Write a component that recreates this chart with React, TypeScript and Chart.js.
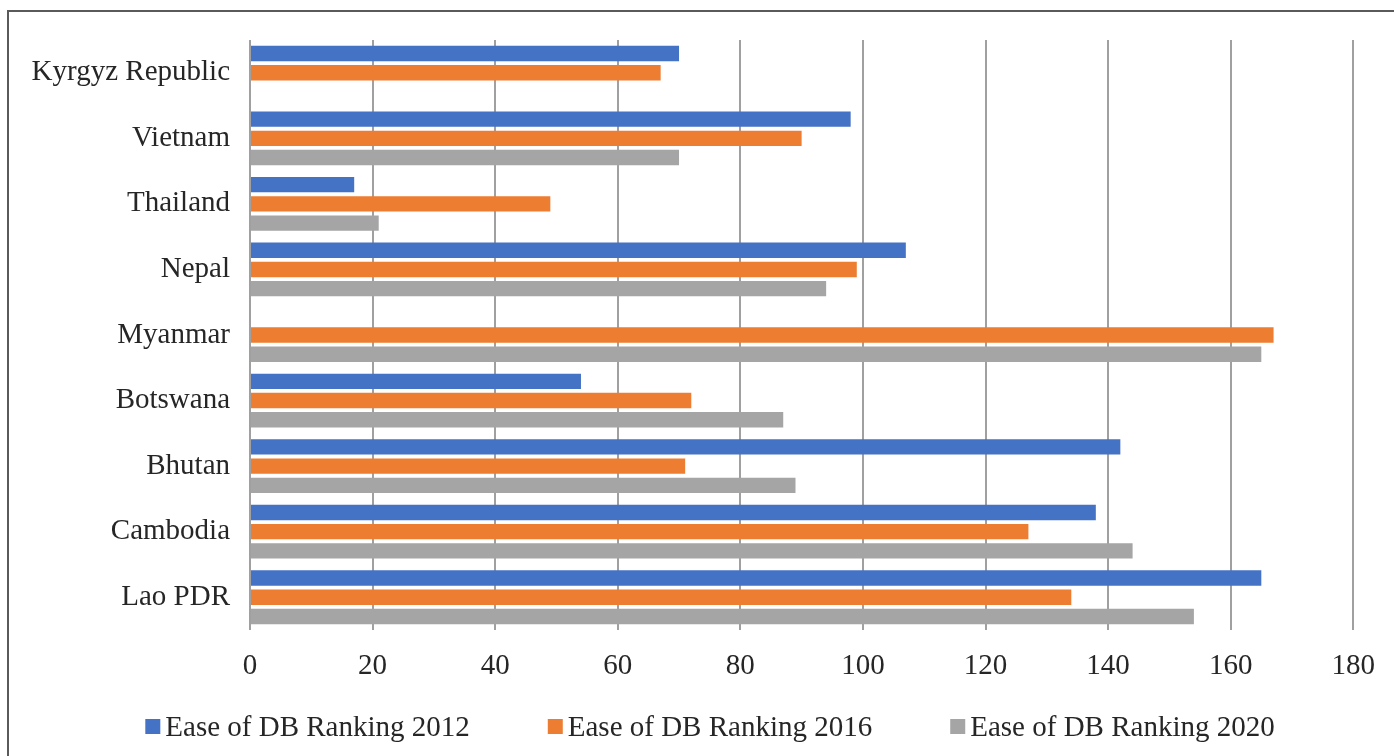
import React, { useEffect, useRef } from "react";
import { Chart, registerables } from "chart.js";

Chart.register(...registerables);

const categories = [
  "Kyrgyz Republic",
  "Vietnam",
  "Thailand",
  "Nepal",
  "Myanmar",
  "Botswana",
  "Bhutan",
  "Cambodia",
  "Lao PDR",
];
const seriesNames = [
  "Ease of DB Ranking 2012",
  "Ease of DB Ranking 2016",
  "Ease of DB Ranking 2020",
];
const ranking2012 = [70, 98, 17, 107, null, 54, 142, 138, 165];
const ranking2016 = [67, 90, 49, 99, 167, 72, 71, 127, 134];
const ranking2020 = [null, 70, 21, 94, 165, 87, 89, 144, 154];
const xTicks = [0, 20, 40, 60, 80, 100, 120, 140, 160, 180];

const colors = ["#4472C4", "#ED7D31", "#A5A5A5"];
const FONT_FAMILY = '"Liberation Serif", "Times New Roman", serif';
const FONT_SIZE = 29;
const TEXT_COLOR = "#262626";

const legendPlugin = {
  id: "customLegend",
  afterDraw(chart: any) {
    const ctx = chart.ctx;
    ctx.save();
    ctx.font = `${FONT_SIZE}px ${FONT_FAMILY}`;
    const box = 15;
    const boxGap = 5;
    const itemGap = 78;
    const widths = chart.data.datasets.map(
      (d: any) => box + boxGap + ctx.measureText(d.label).width
    );
    const total =
      widths.reduce((a: number, b: number) => a + b, 0) +
      itemGap * (widths.length - 1);
    let x = chart.width / 2 + 13 - total / 2;
    const baseline = 736;
    chart.data.datasets.forEach((d: any, i: number) => {
      ctx.fillStyle = d.backgroundColor;
      ctx.fillRect(x, baseline - 17, box, box);
      ctx.fillStyle = TEXT_COLOR;
      ctx.textBaseline = "alphabetic";
      ctx.textAlign = "left";
      ctx.fillText(d.label, x + box + boxGap, baseline);
      x += widths[i] + itemGap;
    });
    ctx.restore();
  },
};

export default function App() {
  const canvasRef = useRef<HTMLCanvasElement>(null);

  useEffect(() => {
    const canvas = canvasRef.current;
    if (!canvas) return;
    const chart = new Chart(canvas, {
      type: "bar",
      data: {
        labels: categories,
        datasets: [ranking2012, ranking2016, ranking2020].map((values, i) => ({
          label: seriesNames[i],
          data: values,
          backgroundColor: colors[i],
          borderWidth: 0,
          categoryPercentage: 0.88,
          barPercentage: 0.8,
        })),
      },
      options: {
        indexAxis: "y",
        responsive: false,
        animation: false,
        layout: { padding: { top: 40, right: 37, left: 0, bottom: 0 } },
        plugins: {
          legend: { display: false },
          tooltip: { enabled: false },
          title: { display: false },
        },
        scales: {
          x: {
            min: 0,
            max: 180,
            afterBuildTicks: (scale: any) => {
              scale.ticks = xTicks.map((v) => ({ value: v }));
            },
            afterFit: (scale: any) => {
              scale.height = 126;
            },
            grid: {
              color: "#a0a0a0",
              lineWidth: 2,
              drawTicks: false,
            },
            border: { display: false },
            ticks: {
              padding: 19,
              color: TEXT_COLOR,
              font: { family: FONT_FAMILY, size: FONT_SIZE },
              maxRotation: 0,
            },
          },
          y: {
            afterFit: (scale: any) => {
              scale.width = 250;
            },
            grid: { display: false, drawTicks: false },
            border: { display: false },
            ticks: {
              padding: 20,
              color: TEXT_COLOR,
              font: { family: FONT_FAMILY, size: FONT_SIZE },
            },
          },
        },
      },
      plugins: [legendPlugin],
    });
    return () => chart.destroy();
  }, []);

  return (
    <div style={{ position: "absolute", left: 0, top: 0, width: 1394, height: 756, background: "#ffffff" }}>
      <canvas
        ref={canvasRef}
        width={1394}
        height={756}
        style={{ position: "absolute", left: 0, top: 0, width: 1394, height: 756 }}
      />
      <div
        style={{
          position: "absolute",
          left: 7,
          top: 10,
          width: 1385,
          height: 744,
          borderTop: "2px solid #5a5a5a",
          borderLeft: "2px solid #5a5a5a",
          pointerEvents: "none",
        }}
      />
    </div>
  );
}
